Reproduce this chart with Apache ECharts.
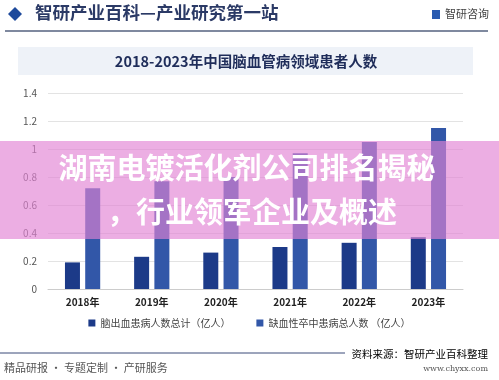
<!DOCTYPE html>
<html><head><meta charset="utf-8">
<script src="https://cdn.jsdelivr.net/npm/echarts@6/dist/echarts.min.js"></script>
<style>html,body{margin:0;padding:0;background:#fff}#c{width:499px;height:380px}</style>
</head><body><div id="c"></div>
<script>
var categories = ['2018年','2019年','2020年','2021年','2022年','2023年'];
var hemorrhage = [0.19, 0.23, 0.26, 0.30, 0.33, 0.37];
var ischemic = [0.72, 0.77, 0.80, 0.97, 1.05, 1.15];
var seriesNames = ['脑出血患病人数总计（亿人）', '缺血性卒中患病总人数 （亿人）'];
var pageTitle = '智研产业百科—产业研究第一站';
var chartTitle = '2018-2023年中国脑血管病领域患者人数';
var bannerLines = ['湖南电镀活化剂公司排名揭秘', '，行业领军企业及概述'];

var font = '"Noto Sans CJK SC", "Noto Sans", sans-serif';
var chart = echarts.init(document.getElementById('c'), null, {renderer:'canvas'});
chart.setOption({
  animation: false,
  backgroundColor: '#fff',
  textStyle: {fontFamily: font},
  grid: {left: 48, right: 36, top: 93, bottom: 91, containLabel: false},
  legend: {
    bottom: 47, left: 'center', itemWidth: 7, itemHeight: 7, itemGap: 26, icon: 'rect',
    textStyle: {fontSize: 10, color: '#444', fontFamily: font},
    data: seriesNames
  },
  xAxis: {
    type: 'category', data: categories,
    axisLine: {lineStyle: {color: '#ccc'}}, axisTick: {show: false},
    axisLabel: {fontSize: 10, color: '#222', fontWeight: 'bold', margin: 8}
  },
  yAxis: {
    type: 'value', min: 0, max: 1.4, interval: 0.2,
    axisLine: {show: false}, axisTick: {show: false},
    splitLine: {lineStyle: {color: '#e3e3e3'}},
    axisLabel: {fontSize: 10, color: '#555', margin: 11,
      formatter: function(v){ return String(Math.round(v*10)/10); }}
  },
  series: [
    {name: seriesNames[0], type: 'bar', data: hemorrhage, barWidth: 15, barGap: '35%',
     itemStyle: {color: '#1c3a88'}},
    {name: seriesNames[1], type: 'bar', data: ischemic, barWidth: 15,
     itemStyle: {color: '#3257a8'}}
  ],
  graphic: [
    {type: 'polygon', shape: {points: [[15,7],[22,14],[15,21],[8,14]]}, style: {fill: '#1e4a9c'}},
    {type: 'text', left: 35, top: 4, style: {text: pageTitle, font: 'bold 17.5px "Noto Sans CJK SC", serif', fill: '#2b3a66'}},
    {type: 'rect', shape: {x: 432, y: 10, width: 8, height: 9}, style: {fill: '#2a5bb0'}},
    {type: 'text', left: 445, top: 8, style: {text: '智研咨询', font: '11px "Noto Sans CJK SC"', fill: '#444'}},
    {type: 'line', shape: {x1: 5, y1: 31, x2: 488, y2: 31}, style: {stroke: '#55627f', lineWidth: 1.5}},
    {type: 'rect', shape: {x: 18, y: 47, width: 455, height: 28}, style: {fill: '#eef2f8'}},
    {type: 'text', x: 246, y: 61, style: {text: chartTitle, font: 'bold 14.5px "Noto Sans CJK SC", serif', fill: '#1f2d5a', textAlign: 'center', textVerticalAlign: 'middle'}},
    {type: 'rect', z: 100, shape: {x: 0, y: 141, width: 499, height: 98}, style: {fill: 'rgba(226,131,212,0.65)'}},
    {type: 'text', z: 101, x: 247, y: 168, style: {text: bannerLines[0], font: 'bold 29px "Noto Sans CJK SC"', fill: '#fff', textAlign: 'center', textVerticalAlign: 'middle', shadowBlur: 3, shadowColor: 'rgba(0,0,0,0.25)'}},
    {type: 'text', z: 101, x: 252, y: 212, style: {text: bannerLines[1], font: 'bold 29px "Noto Sans CJK SC"', fill: '#fff', textAlign: 'center', textVerticalAlign: 'middle', shadowBlur: 3, shadowColor: 'rgba(0,0,0,0.25)'}},
    {type: 'line', shape: {x1: 0, y1: 353, x2: 345, y2: 353}, style: {stroke: '#3a4a78', lineWidth: 1}},
    {type: 'text', x: 488, y: 354, style: {text: '{a|资料来源：}{b|智研产业百科整理}', textAlign: 'right', textVerticalAlign: 'middle',
      rich: {a: {fontSize: 10.5, fontFamily: font, color: '#555'}, b: {fontSize: 10.5, fontFamily: font, color: '#2a4a90'}}}},
    {type: 'text', x: 488, y: 369, style: {text: 'www.chyxx.com', font: '8px "DejaVu Serif", serif', fill: '#555', textAlign: 'right', textVerticalAlign: 'middle'}},
    {type: 'text', x: 4, y: 368, style: {text: '精品研报 · 专题定制 · 产研服务', font: '11px "Noto Sans CJK SC"', fill: '#555', textVerticalAlign: 'middle'}}
  ]
});
</script></body></html>
